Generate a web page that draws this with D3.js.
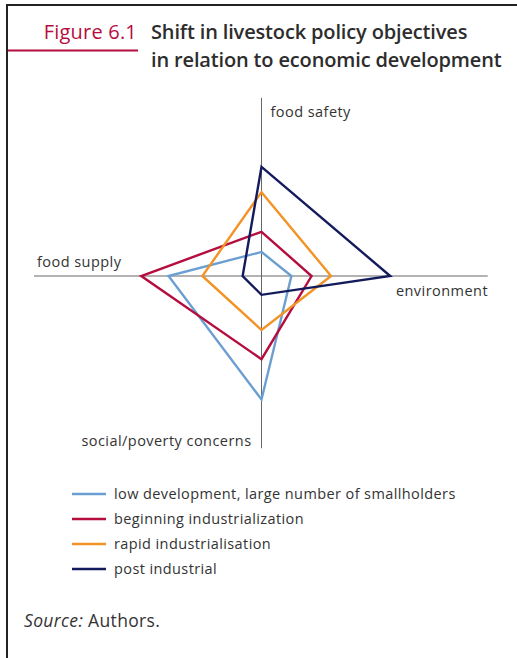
<!DOCTYPE html>
<html>
<head>
<meta charset="utf-8">
<script src="https://cdn.jsdelivr.net/npm/d3@7"></script>
<style>
  html, body { margin: 0; padding: 0; background: #fff; }
  svg { display: block; }
  text { font-family: "Open Sans", "Noto Sans", sans-serif; }
</style>
</head>
<body>
<svg id="chart" width="517" height="658"></svg>
<script>
// Policy objectives (axes), clockwise from top
const objectives = ["food safety", "environment", "social/poverty concerns", "food supply"];

// Development stages and their relative emphasis on each objective
const stages = [
  "low development, large number of smallholders",
  "beginning industrialization",
  "rapid industrialisation",
  "post industrial"
];
const foodSafety    = [18.5, 34, 64.5, 84];
const environment   = [23, 38.5, 53.5, 99];
const socialPoverty = [95, 64, 41.5, 14.5];
const foodSupply    = [71.5, 92.5, 45.5, 14.5];

const colors = ["#6b9fd2", "#b50d3e", "#f39325", "#131b5c"];

const svg = d3.select("#chart");

// Frame: top and left rules
svg.append("line").attr("x1", 7).attr("x2", 517).attr("y1", 5).attr("y2", 5)
  .attr("stroke", "#222").attr("stroke-width", 2);
svg.append("line").attr("x1", 7).attr("x2", 7).attr("y1", 4).attr("y2", 658)
  .attr("stroke", "#222").attr("stroke-width", 2);

// Title block
svg.append("line").attr("x1", 8).attr("x2", 138).attr("y1", 50.5).attr("y2", 50.5)
  .attr("stroke", "#b50d3e").attr("stroke-width", 2);
svg.append("text").attr("x", 137).attr("y", 39).attr("text-anchor", "end")
  .attr("font-size", 20).attr("letter-spacing", 0.2).attr("fill", "#b50d3e").text("Figure 6.1");
const title = svg.append("text").attr("font-size", 20).attr("fill", "#2d2d2d")
  .attr("font-weight", 600).attr("letter-spacing", -0.15);
title.append("tspan").attr("x", 151).attr("y", 39).text("Shift in livestock policy objectives");
title.append("tspan").attr("x", 151).attr("y", 67).text("in relation to economic development");

// Radar geometry
const cx = 261.5, cy = 276;
const r = d3.scaleLinear().domain([0, 100]).range([0, 130]);
const angle = d3.scaleOrdinal().domain(objectives)
  .range([-Math.PI / 2, 0, Math.PI / 2, Math.PI]);

const g = svg.append("g").attr("transform", `translate(${cx},${cy})`);

// Axes
const axisExtent = {
  "food safety": 137, "environment": 174,
  "social/poverty concerns": 132.5, "food supply": 175
};
objectives.forEach(o => {
  const a = angle(o), len = r(axisExtent[o]);
  g.append("line")
    .attr("x1", 0).attr("y1", 0)
    .attr("x2", Math.cos(a) * len).attr("y2", Math.sin(a) * len)
    .attr("stroke", "#666").attr("stroke-width", 1);
});

// Axis labels
const labelStyle = sel => sel.attr("font-size", 14.5).attr("fill", "#333").attr("letter-spacing", 0.45);
g.append("text").call(labelStyle).attr("x", 9).attr("y", -159).text("food safety");
g.append("text").call(labelStyle).attr("x", 226.5).attr("y", 20).attr("text-anchor", "end").text("environment");
g.append("text").call(labelStyle).attr("x", -10).attr("y", 170).attr("text-anchor", "end").text("social/poverty concerns");
g.append("text").call(labelStyle).attr("x", -224.5).attr("y", -9).text("food supply");

// Stage polygons
const series = stages.map((s, i) => ({
  name: s,
  color: colors[i],
  values: [foodSafety[i], environment[i], socialPoverty[i], foodSupply[i]]
}));

const radial = d3.lineRadial()
  .angle((d, j) => angle(objectives[j]) + Math.PI / 2)
  .radius(d => r(d))
  .curve(d3.curveLinearClosed);

g.selectAll("path.stage").data(series).join("path")
  .attr("class", "stage")
  .attr("d", d => radial(d.values))
  .attr("fill", "none")
  .attr("stroke", d => d.color)
  .attr("stroke-width", 2.4)
  .attr("stroke-linejoin", "miter");

// Legend
const legend = svg.append("g").attr("transform", "translate(72,494)");
const rows = legend.selectAll("g").data(series).join("g")
  .attr("transform", (d, i) => `translate(0,${i * 25})`);
rows.append("line").attr("x1", 0).attr("x2", 34).attr("y1", 0).attr("y2", 0)
  .attr("stroke", d => d.color).attr("stroke-width", 2.4);
rows.append("text").attr("x", 42).attr("y", 5).attr("font-size", 14.5).attr("fill", "#333")
  .attr("letter-spacing", 0.4)
  .text(d => d.name);

// Source note
const src = svg.append("text").attr("x", 24).attr("y", 627).attr("font-size", 17.5)
  .attr("letter-spacing", 0.35).attr("fill", "#333");
src.append("tspan").attr("font-style", "italic").text("Source:");
src.append("tspan").text(" Authors.");
</script>
</body>
</html>
